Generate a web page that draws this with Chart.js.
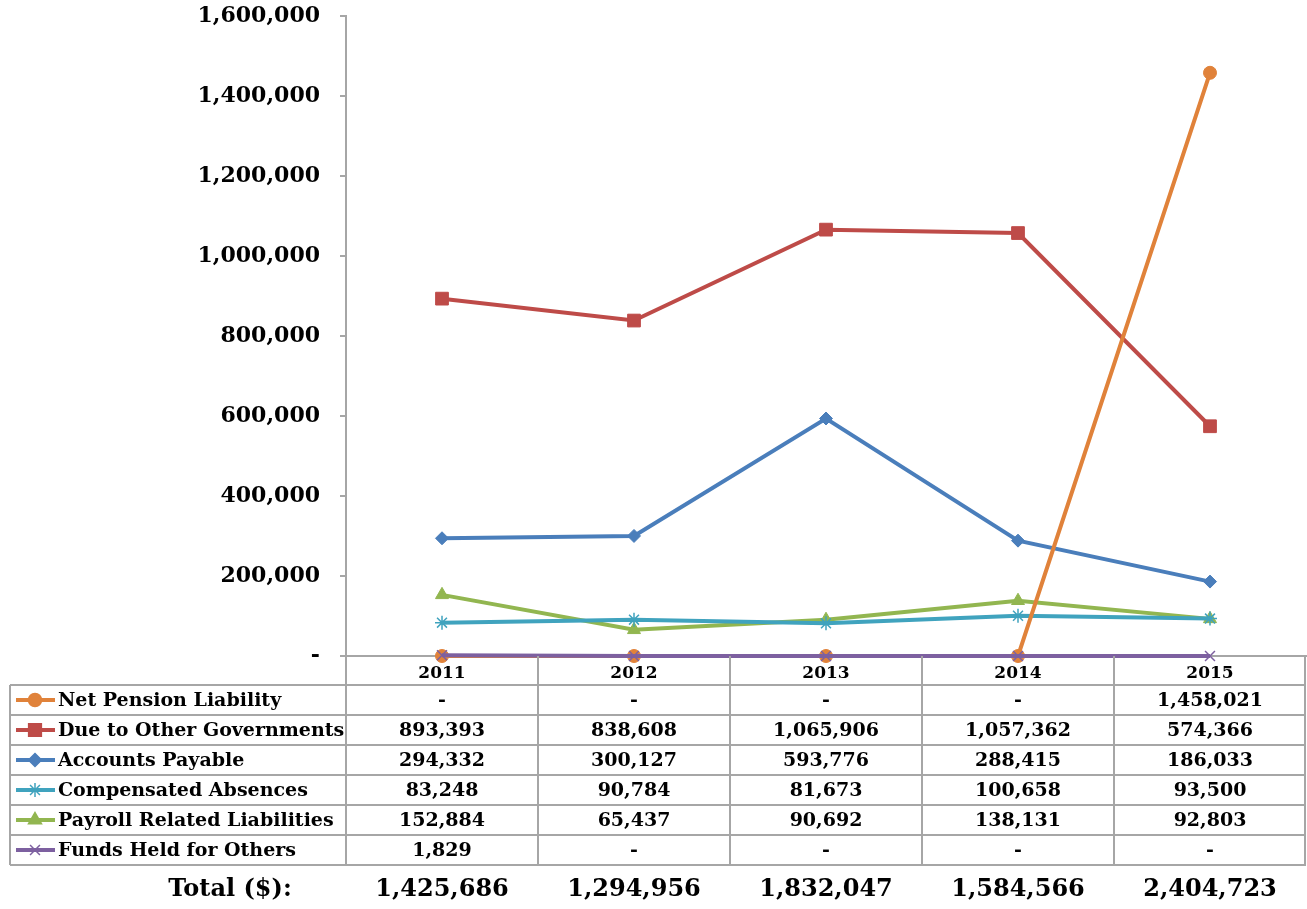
<!DOCTYPE html>
<html>
<head>
<meta charset="utf-8">
<script src="https://cdn.jsdelivr.net/npm/chart.js@4.4.1/dist/chart.umd.min.js"></script>
<style>
  html, body { margin: 0; padding: 0; background: #fff; overflow: hidden; }
  #wrap { width: 1307px; height: 909px; position: relative; }
  canvas { display: block; }
</style>
</head>
<body>
<div id="wrap"><canvas id="liabChart" width="1307" height="909"></canvas></div>
<script>
// categories and series
const years = ['2011', '2012', '2013', '2014', '2015'];
const netPension = [0, 0, 0, 0, 1458021];
const dueToGov = [893393, 838608, 1065906, 1057362, 574366];
const accountsPayable = [294332, 300127, 593776, 288415, 186033];
const compAbsences = [83248, 90784, 81673, 100658, 93500];
const payrollRelated = [152884, 65437, 90692, 138131, 92803];
const fundsHeld = [1829, 0, 0, 0, 0];
const yTicks = [0, 200000, 400000, 600000, 800000, 1000000, 1200000, 1400000, 1600000];

const seriesNames = ['Net Pension Liability', 'Due to Other Governments', 'Accounts Payable',
  'Compensated Absences', 'Payroll Related Liabilities', 'Funds Held for Others'];
const seriesData = [netPension, dueToGov, accountsPayable, compAbsences, payrollRelated, fundsHeld];
const colors = ['#E0823A', '#BE4B48', '#4A7EBB', '#40A3BE', '#92B650', '#7D60A0'];
const markers = ['circle', 'rect', 'rectRot', 'star', 'triangle', 'crossRot'];
const markerSize = [6.5, 9, 6.5, 7, 7.5, 7];

const FONT = '"DejaVu Serif", Georgia, serif';
const fmt = v => v === 0 ? '-' : v.toLocaleString('en-US');

// data table drawn under the plot, columns follow the x scale
const tablePlugin = {
  id: 'dataTable',
  afterDraw(chart) {
    const ctx = chart.ctx;
    const xs = chart.scales.x;
    const area = chart.chartArea;
    const colW = (area.right - area.left) / years.length;
    const tableLeft = 10;
    const headTop = area.bottom;
    const rowTop = 685;
    const rowH = 30;
    const bottom = rowTop + rowH * seriesNames.length;

    ctx.save();
    ctx.strokeStyle = '#A6A6A6';
    ctx.lineWidth = 2;
    ctx.beginPath();
    // vertical column lines
    for (let i = 1; i <= years.length; i++) {
      const lx = Math.round(area.left + colW * i) - (i === years.length ? 1 : 0);
      ctx.moveTo(lx, headTop);
      ctx.lineTo(lx, bottom);
    }
    ctx.moveTo(area.left, headTop);
    ctx.lineTo(area.left, bottom);
    ctx.moveTo(tableLeft, rowTop);
    ctx.lineTo(tableLeft, bottom);
    // horizontal row lines
    for (let r = 0; r <= seriesNames.length; r++) {
      const ly = rowTop + rowH * r;
      ctx.moveTo(tableLeft, ly);
      ctx.lineTo(area.right, ly);
    }
    ctx.stroke();

    ctx.textBaseline = 'middle';
    seriesNames.forEach((name, r) => {
      const cy = rowTop + rowH * r + rowH / 2;
      // legend key
      ctx.strokeStyle = colors[r];
      ctx.fillStyle = colors[r];
      ctx.lineWidth = 4;
      ctx.beginPath();
      ctx.moveTo(16, cy);
      ctx.lineTo(55, cy);
      ctx.stroke();
      ctx.lineWidth = 1.5;
      Chart.helpers.drawPoint(ctx, { pointStyle: markers[r], radius: markerSize[r], rotation: 0, borderWidth: 1.5 }, 35, cy);

      ctx.fillStyle = '#000';
      ctx.font = 'bold 19px ' + FONT;
      ctx.textAlign = 'left';
      ctx.fillText(name, 58, cy + 1);
      ctx.textAlign = 'center';
      seriesData[r].forEach((v, i) => {
        ctx.fillText(fmt(v), xs.getPixelForValue(i), cy + 1);
      });
    });

    // totals row
    const totalY = 890;
    ctx.font = 'bold 24px ' + FONT;
    ctx.textAlign = 'center';
    ctx.fillText('Total ($):', 230, totalY);
    years.forEach((y, i) => {
      const sum = seriesData.reduce((s, arr) => s + arr[i], 0);
      ctx.fillText(sum.toLocaleString('en-US'), xs.getPixelForValue(i), totalY);
    });
    ctx.restore();
  }
};

const datasets = seriesNames.map((name, i) => ({
  label: name,
  data: seriesData[i],
  borderColor: colors[i],
  backgroundColor: colors[i],
  borderWidth: 4,
  pointStyle: markers[i],
  pointRadius: markerSize[i],
  pointBorderWidth: (markers[i] === 'star' || markers[i] === 'crossRot') ? 1.5 : 1,
  tension: 0,
  clip: false,
  order: i === 5 ? 0 : (i === 0 ? 1 : 2)
}));

new Chart(document.getElementById('liabChart'), {
  type: 'line',
  data: { labels: years, datasets: datasets },
  options: {
    responsive: false,
    animation: false,
    layout: { autoPadding: false, padding: { top: 16, right: 1, left: 0, bottom: 0 } },
    plugins: {
      legend: { display: false },
      tooltip: { enabled: false }
    },
    scales: {
      x: {
        offset: true,
        grid: { display: false, drawTicks: false },
        border: { display: true, color: '#A6A6A6', width: 2 },
        ticks: {
          color: '#000',
          padding: 7,
          font: { family: FONT, weight: 'bold', size: 17 }
        },
        afterFit: s => { s.height = 909 - 656; s.paddingLeft = 0; s.paddingRight = 0; }
      },
      y: {
        min: 0,
        max: 1600000,
        afterBuildTicks: s => { s.ticks = yTicks.map(v => ({ value: v })); },
        grid: { display: true, drawOnChartArea: false, drawTicks: true, tickLength: 6, color: '#A6A6A6', lineWidth: 2 },
        border: { display: true, color: '#A6A6A6', width: 2 },
        ticks: {
          color: '#000',
          padding: 20,
          font: { family: FONT, weight: 'bold', size: 22 },
          callback: v => fmt(v)
        },
        afterFit: s => { s.width = 346; s.paddingTop = 0; s.paddingBottom = 0; }
      }
    }
  },
  plugins: [tablePlugin]
});
</script>
</body>
</html>
